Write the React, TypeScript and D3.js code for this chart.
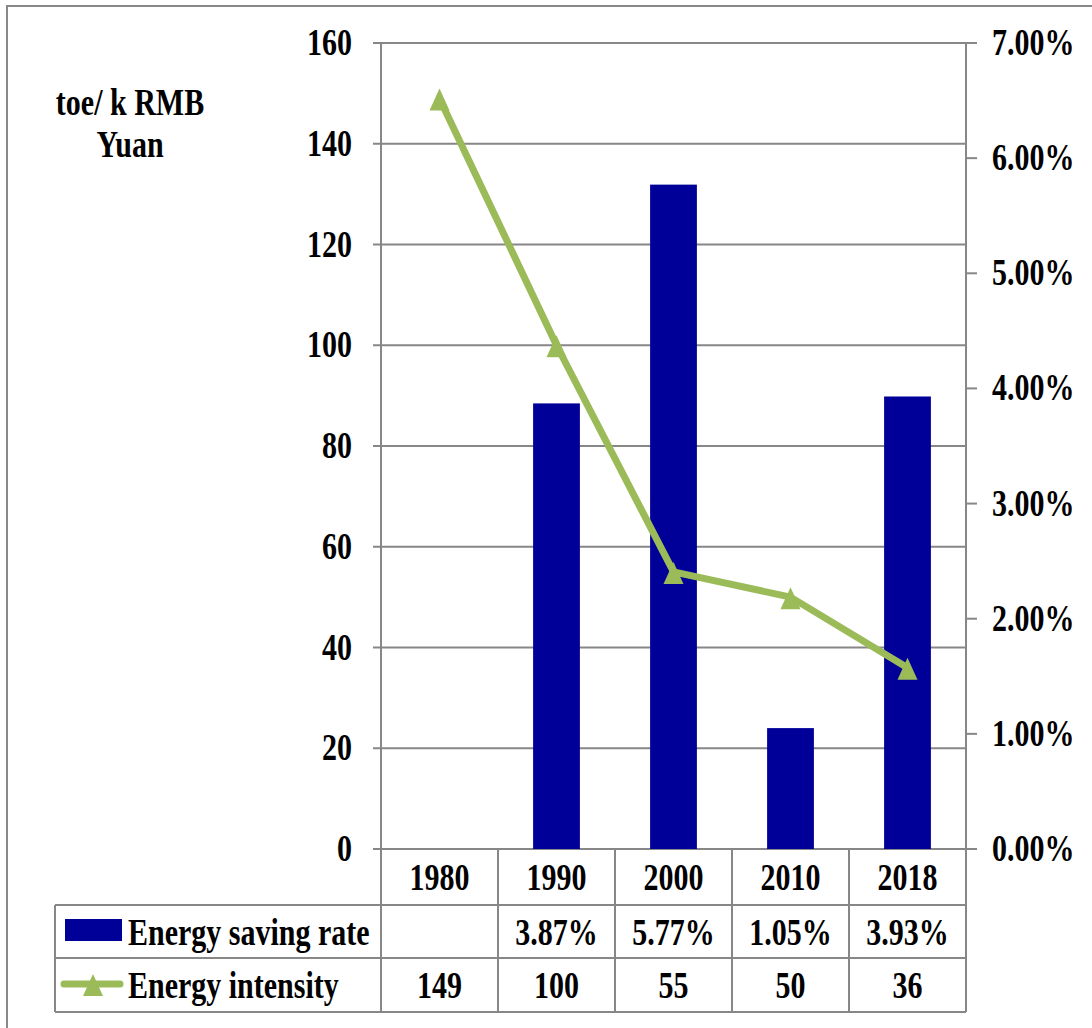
import React from "react";
import * as d3 from "d3";

const years = ["1980", "1990", "2000", "2010", "2018"];
const savingRate: (number | null)[] = [null, 3.87, 5.77, 1.05, 3.93];
const savingLabels = ["", "3.87%", "5.77%", "1.05%", "3.93%"];
const intensity = [149, 100, 55, 50, 36];
const leftTicks = [0, 20, 40, 60, 80, 100, 120, 140, 160];
const rightTicks = [0, 1, 2, 3, 4, 5, 6, 7];

const FONT = "'Liberation Serif', 'Times New Roman', serif";
const SY = 1.24;
const GRID = "#878787";
const BLUE = "#000099";
const GREEN = "#9BBB59";

function T({ x, y, anchor = "middle", size = 30, children }: any) {
  return (
    <text
      transform={`translate(${x},${y}) scale(1,${SY})`}
      textAnchor={anchor}
      fontFamily={FONT}
      fontWeight="bold"
      fontSize={size}
      fill="#000"
    >
      {children}
    </text>
  );
}

export default function App() {
  const W = 1092, H = 1028;
  const left = 381, right = 966, top = 43, bottom = 849;
  const row1 = 905, row2 = 958, row3 = 1012;
  const tableLeft = 55;
  const x = d3.scaleBand<string>().domain(years).range([left, right]).padding(0);
  const bw = x.bandwidth();
  const yL = d3.scaleLinear().domain([0, 160]).range([bottom, top]);
  const yR = d3.scaleLinear().domain([0, 7]).range([bottom, top]);
  const cx = (y: string) => (x(y) as number) + bw / 2;
  const barW = bw * 0.4;
  const line = d3
    .line<number>()
    .x((_, i) => cx(years[i]))
    .y((d) => yL(d));
  const tri = (px: number, py: number) =>
    `M${px},${py - 11} L${px + 10},${py + 11} L${px - 10},${py + 11} Z`;

  return (
    <svg width={W} height={H} style={{ position: "absolute", left: 0, top: 0, background: "#fff" }}>
      <rect x={0} y={0} width={W} height={H} fill="#fff" />
      <rect x={7} y={6} width={1200} height={1100} fill="none" stroke="#888" strokeWidth={2} />
      {/* gridlines */}
      {leftTicks.map((t) => (
        <line key={"g" + t} x1={left - 8} x2={right} y1={yL(t)} y2={yL(t)} stroke={GRID} strokeWidth={2} />
      ))}
      {/* bars */}
      {savingRate.map((v, i) =>
        v == null ? null : (
          <rect
            key={"b" + i}
            x={cx(years[i]) - barW / 2}
            y={yR(v)}
            width={barW}
            height={yR(0) - yR(v)}
            fill={BLUE}
          />
        )
      )}
      {/* axes */}
      <line x1={left} x2={left} y1={top} y2={row3} stroke={GRID} strokeWidth={2} />
      <line x1={right} x2={right} y1={top} y2={row3} stroke={GRID} strokeWidth={2} />
      {rightTicks.map((t) => (
        <line key={"rt" + t} x1={right} x2={right + 11} y1={yR(t)} y2={yR(t)} stroke={GRID} strokeWidth={2} />
      ))}
      {leftTicks.map((t) => (
        <T key={"lt" + t} x={352} y={yL(t) + 12} anchor="end">
          {t}
        </T>
      ))}
      {rightTicks.map((t) => (
        <T key={"rl" + t} x={992} y={yR(t) + 12} anchor="start">
          {t.toFixed(2) + "%"}
        </T>
      ))}
      {/* line */}
      <path d={line(intensity) || ""} fill="none" stroke={GREEN} strokeWidth={7} strokeLinejoin="round" />
      {intensity.map((v, i) => (
        <path key={"m" + i} d={tri(cx(years[i]), yL(v) + 1)} fill={GREEN} />
      ))}
      {/* unit label */}
      <T x={130} y={115}>toe/ k RMB</T>
      <T x={130} y={157}>Yuan</T>
      {/* table */}
      <line x1={tableLeft} x2={right} y1={row1} y2={row1} stroke={GRID} strokeWidth={2} />
      <line x1={tableLeft} x2={right} y1={row2} y2={row2} stroke={GRID} strokeWidth={2} />
      <line x1={tableLeft} x2={right} y1={row3} y2={row3} stroke={GRID} strokeWidth={2} />
      <line x1={tableLeft} x2={tableLeft} y1={row1} y2={row3} stroke={GRID} strokeWidth={2} />
      {years.map((y, i) =>
        i === 0 ? null : (
          <line key={"v" + y} x1={x(y) as number} x2={x(y) as number} y1={bottom} y2={row3} stroke={GRID} strokeWidth={2} />
        )
      )}
      {years.map((y) => (
        <T key={"y" + y} x={cx(y)} y={(bottom + row1) / 2 + 13}>
          {y}
        </T>
      ))}
      {savingLabels.map((s, i) => (
        <T key={"s" + i} x={cx(years[i])} y={(row1 + row2) / 2 + 13}>
          {s}
        </T>
      ))}
      {intensity.map((v, i) => (
        <T key={"iv" + i} x={cx(years[i])} y={(row2 + row3) / 2 + 13}>
          {v}
        </T>
      ))}
      {/* legend keys */}
      <rect x={65} y={919} width={57} height={22} fill={BLUE} />
      <line x1={64} x2={120} y1={984} y2={984} stroke={GREEN} strokeWidth={7} strokeLinecap="round" />
      <path d={tri(93, 985)} fill={GREEN} />
      <T x={128} y={(row1 + row2) / 2 + 13} anchor="start">Energy saving rate</T>
      <T x={128} y={(row2 + row3) / 2 + 13} anchor="start">Energy intensity</T>
    </svg>
  );
}
